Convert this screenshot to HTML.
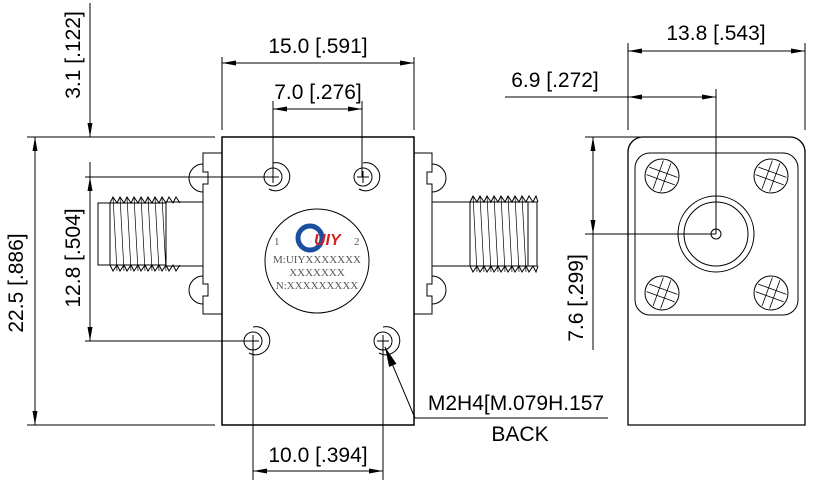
<!DOCTYPE html>
<html><head><meta charset="utf-8"><style>
html,body{margin:0;padding:0;background:#fff;}
svg{display:block;}
text{font-family:"Liberation Sans",sans-serif;fill:#000;}
</style></head><body>
<svg width="822" height="484" viewBox="0 0 822 484" xmlns="http://www.w3.org/2000/svg">
<defs>
<marker id="a" viewBox="0 0 14 7" refX="14" refY="3.5" markerWidth="14" markerHeight="7" orient="auto-start-reverse" markerUnits="userSpaceOnUse"><path d="M0,1 L14,3.5 L0,6 z" fill="#000"/></marker>
<marker id="b" viewBox="0 0 20 10" refX="20" refY="5" markerWidth="20" markerHeight="10" orient="auto" markerUnits="userSpaceOnUse"><path d="M0,1 L20,5 L0,9 z" fill="#000"/></marker>
</defs>
<g stroke="#000" stroke-width="1" fill="none">
<rect x="222" y="137" width="192" height="288" stroke-width="1.5"/>
<rect x="203" y="153" width="19" height="161"/>
<rect x="414" y="153" width="18" height="161"/>
<path d="M203,164 a14,14 0 0 0 0,28 v-8 h5 v-12 h-5z" fill="#fff"/>
<path d="M203,276 a14,14 0 0 0 0,28 v-8 h5 v-12 h-5z" fill="#fff"/>
<path d="M432,164 a14,14 0 0 1 0,28 v-8 h-5 v-12 h5z" fill="#fff"/>
<path d="M432,276 a14,14 0 0 1 0,28 v-8 h-5 v-12 h5z" fill="#fff"/>
<rect x="166" y="202" width="37" height="64"/>
<rect x="98" y="203" width="12" height="62"/>
<path d="M110,203 v62 M166,203 v62 M110,203 h56 M110,265 h56"/>
<path d="M110,203 l3,-6 l4,6 l3,-6 l4,6 l3,-6 l4,6 l3,-6 l4,6 l3,-6 l4,6 l3,-6 l4,6 l3,-6 l4,6 l3,-6 l4,6 l3,-6 l4,6 l3,-6 l4,6"/>
<path d="M110,265 l3,6 l4,-6 l3,6 l4,-6 l3,6 l4,-6 l3,6 l4,-6 l3,6 l4,-6 l3,6 l4,-6 l3,6 l4,-6 l3,6 l4,-6 l3,6 l4,-6 l3,6 l4,-6"/>
<path d="M113,197 l4,74 M120,197 l4,74 M127,197 l4,74 M134,197 l4,74 M141,197 l4,74 M148,197 l4,74 M155,197 l4,74 M162,197 l4,74" stroke-width="0.7"/>
<rect x="432" y="202" width="38" height="64"/>
<rect x="528" y="202" width="9" height="64"/>
<path d="M470,202 h58 M470,266 h58"/>
<path d="M470,202 l3,-6 l4,6 l3,-6 l4,6 l3,-6 l4,6 l3,-6 l4,6 l3,-6 l4,6 l3,-6 l4,6 l3,-6 l4,6 l3,-6 l4,6 l3,-6 l4,6 l3,-6 l2,6"/>
<path d="M470,266 l3,6 l4,-6 l3,6 l4,-6 l3,6 l4,-6 l3,6 l4,-6 l3,6 l4,-6 l3,6 l4,-6 l3,6 l4,-6 l3,6 l4,-6 l3,6 l4,-6 l3,6 l2,-6"/>
<path d="M473,196 l4,76 M480,196 l4,76 M487,196 l4,76 M494,196 l4,76 M501,196 l4,76 M508,196 l4,76 M515,196 l4,76 M522,196 l4,76" stroke-width="0.7"/>
<g>
<circle cx="273" cy="177" r="9"/><path d="M273,163 a14,14 0 1,1 -4,26"/><path d="M267,177 h12 M273,171 v12"/>
<circle cx="363" cy="177" r="9"/><path d="M363,163 a14,14 0 1,1 -4,26"/><path d="M357,177 h12 M363,171 v12"/>
<circle cx="253" cy="341" r="9"/><path d="M253,327 a14,14 0 1,1 -4,26"/><path d="M247,341 h12 M253,335 v12"/>
<circle cx="383" cy="341" r="9"/><path d="M383,327 a14,14 0 1,1 -4,26"/><path d="M377,341 h12 M383,335 v12"/>
</g>
<circle cx="317" cy="261" r="52"/>
<path d="M628,425 V152 a15,15 0 0 1 15,-15 H790 a15,15 0 0 1 15,15 V425 Z" stroke-width="1.3"/>
<path d="M650,153 H783 a15,15 0 0 1 15,15 V300 a15,15 0 0 1 -15,15 H650 a15,15 0 0 1 -15,-15 V168 a15,15 0 0 1 15,-15 Z"/>
<circle cx="716" cy="234" r="38"/><circle cx="716" cy="234" r="32"/><circle cx="716" cy="234" r="5"/>
<g id="s"><circle cx="662" cy="176" r="17"/><g transform="rotate(20 662 176)"><path d="M647,172 h30 M647,180 h30 M658,161 v30 M666,161 v30" stroke-width="0.8"/></g></g>
<use href="#s" x="109" y="0"/><use href="#s" x="0" y="117"/><use href="#s" x="109" y="117"/>
<path d="M27,137 H215 M27,425 H215 M85,341 H253 M85,177 H273"/>
<path d="M35,137 V425" marker-start="url(#a)" marker-end="url(#a)"/>
<path d="M90,177 V341" marker-start="url(#a)" marker-end="url(#a)"/>
<path d="M90,3 V137" marker-end="url(#a)"/>
<path d="M90,162 V177"/>
<path d="M222,57 V130 M414,57 V130"/>
<path d="M222,63 H414" marker-start="url(#a)" marker-end="url(#a)"/>
<path d="M273,101 V177 M362,101 V177"/>
<path d="M273,109 H362" marker-start="url(#a)" marker-end="url(#a)"/>
<path d="M253,341 V480 M383,341 V480"/>
<path d="M253,471 H383" marker-start="url(#a)" marker-end="url(#a)"/>
<path d="M415,418 L385,347" marker-end="url(#b)"/>
<path d="M415,418 H608"/>
<path d="M628,43 V130 M805,43 V130"/>
<path d="M628,51 H805" marker-start="url(#a)" marker-end="url(#a)"/>
<path d="M716,89 V234"/>
<path d="M505,97 H628"/>
<path d="M628,97 H716" marker-start="url(#a)" marker-end="url(#a)"/>
<path d="M585,137 H640 M585,234 H716"/>
<path d="M593,137 V234" marker-start="url(#a)" marker-end="url(#a)"/>
<path d="M593,234 V350"/>
</g>
<circle cx="310" cy="238" r="12" fill="none" stroke="#1a4fa0" stroke-width="5"/>
<text x="314" y="245" font-size="16" font-weight="bold" font-style="italic" style="fill:#d42020">UIY</text>
<g font-size="11">
<text x="274" y="245" style="fill:#555;font-family:'Liberation Serif',serif">1</text>
<text x="354" y="245" style="fill:#555;font-family:'Liberation Serif',serif">2</text>
<text x="317" y="263" text-anchor="middle" style="fill:#555;font-family:'Liberation Serif',serif">M:UIYXXXXXXX</text>
<text x="317" y="276" text-anchor="middle" style="fill:#555;font-family:'Liberation Serif',serif">XXXXXXX</text>
<text x="317" y="289" text-anchor="middle" style="fill:#555;font-family:'Liberation Serif',serif">N:XXXXXXXXX</text>
</g>
<g font-size="21">
<text x="318" y="53" text-anchor="middle">15.0 [.591]</text>
<text x="318" y="99" text-anchor="middle">7.0 [.276]</text>
<text x="318" y="462" text-anchor="middle">10.0 [.394]</text>
<text x="716" y="40" text-anchor="middle">13.8 [.543]</text>
<text x="555" y="87" text-anchor="middle">6.9 [.272]</text>
<text x="516" y="410" text-anchor="middle">M2H4[M.079H.157</text>
<text x="520" y="441" text-anchor="middle">BACK</text>
<text transform="translate(80,55) rotate(-90)" text-anchor="middle">3.1 [.122]</text>
<text transform="translate(23,283) rotate(-90)" text-anchor="middle">22.5 [.886]</text>
<text transform="translate(80,258) rotate(-90)" text-anchor="middle">12.8 [.504]</text>
<text transform="translate(583,298) rotate(-90)" text-anchor="middle">7.6 [.299]</text>
</g>
</svg>
</body></html>
